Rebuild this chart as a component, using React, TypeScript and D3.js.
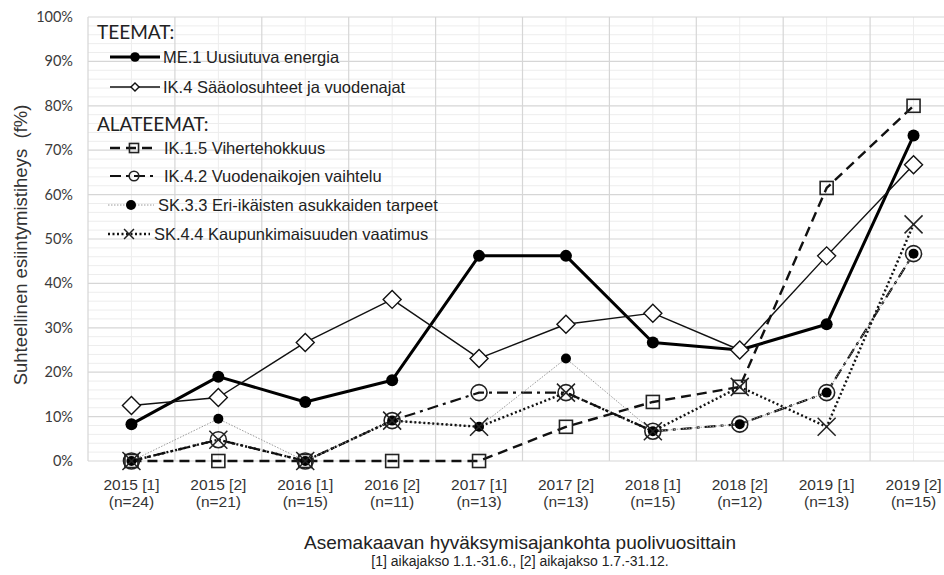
import React from "react";
import * as d3 from "d3";

const categories = ["2015 [1]", "2015 [2]", "2016 [1]", "2016 [2]", "2017 [1]", "2017 [2]", "2018 [1]", "2018 [2]", "2019 [1]", "2019 [2]"];
const sampleSizes = ["(n=24)", "(n=21)", "(n=15)", "(n=11)", "(n=13)", "(n=13)", "(n=15)", "(n=12)", "(n=13)", "(n=15)"];
const yTicks = [0, 10, 20, 30, 40, 50, 60, 70, 80, 90, 100];

const me1 = [8.3, 19.0, 13.3, 18.2, 46.2, 46.2, 26.7, 25.0, 30.8, 73.3];
const ik4 = [12.5, 14.3, 26.7, 36.4, 23.1, 30.8, 33.3, 25.0, 46.2, 66.7];
const ik15 = [0, 0, 0, 0, 0, 7.7, 13.3, 16.7, 61.5, 80.0];
const ik42 = [0, 4.8, 0, 9.1, 15.4, 15.4, 6.7, 8.3, 15.4, 46.7];
const sk33 = [0, 9.5, 0, 9.1, 7.7, 23.1, 6.7, 8.3, 15.4, 46.7];
const sk44 = [0, 4.8, 0, 9.1, 7.7, 15.4, 6.7, 16.7, 7.7, 53.3];

const seriesNames = [
  "ME.1 Uusiutuva energia",
  "IK.4 Sääolosuhteet ja vuodenajat",
  "IK.1.5 Vihertehokkuus",
  "IK.4.2 Vuodenaikojen vaihtelu",
  "SK.3.3 Eri-ikäisten asukkaiden tarpeet",
  "SK.4.4 Kaupunkimaisuuden vaatimus",
];

type Style = {
  stroke: string;
  width: number;
  dash: string | null;
  marker: "dot" | "diamond" | "square" | "circle" | "smalldot" | "x";
  legendScale: number;
};

const styles: Style[] = [
  { stroke: "#000", width: 3, dash: null, marker: "dot", legendScale: 0.8 },
  { stroke: "#111", width: 1.4, dash: null, marker: "diamond", legendScale: 0.45 },
  { stroke: "#111", width: 2.4, dash: "10,6", marker: "square", legendScale: 0.7 },
  { stroke: "#111", width: 2.2, dash: "11,5,3,5", marker: "circle", legendScale: 0.6 },
  { stroke: "#9a9a9a", width: 1, dash: "1.5,1.5", marker: "smalldot", legendScale: 1.0 },
  { stroke: "#111", width: 2.4, dash: "2,2.5", marker: "x", legendScale: 0.55 },
];

const seriesData = [me1, ik4, ik15, ik42, sk33, sk44];

const W = 944;
const H = 575;
const plotLeft = 88;
const bandW = 86.9;
const plotRight = plotLeft + bandW * categories.length;
const plotTop = 17;
const plotBottom = 461;

function Marker({ type, x, y, scale = 1 }: { type: Style["marker"]; x: number; y: number; scale?: number }) {
  const s = scale;
  switch (type) {
    case "dot":
      return <circle cx={x} cy={y} r={6 * s} fill="#000" />;
    case "diamond": {
      const r = 9 * s;
      return (
        <path
          d={`M${x},${y - r}L${x + r},${y}L${x},${y + r}L${x - r},${y}Z`}
          fill="#fff"
          stroke="#111"
          strokeWidth={1.4}
        />
      );
    }
    case "square": {
      const r = 6.5 * s;
      return <rect x={x - r} y={y - r} width={2 * r} height={2 * r} fill="none" stroke="#222" strokeWidth={1.6} />;
    }
    case "circle":
      return <circle cx={x} cy={y} r={8 * s} fill="none" stroke="#222" strokeWidth={1.6} />;
    case "smalldot":
      return <circle cx={x} cy={y} r={5 * s} fill="#000" />;
    case "x": {
      const r = 9 * s;
      return (
        <path
          d={`M${x - r},${y - r}L${x + r},${y + r}M${x - r},${y + r}L${x + r},${y - r}`}
          stroke="#222"
          strokeWidth={1.5}
          fill="none"
        />
      );
    }
  }
  return null;
}

export default function App() {
  const x = d3.scaleBand<string>().domain(categories).range([plotLeft, plotRight]);
  const y = d3.scaleLinear().domain([0, 100]).range([plotBottom, plotTop]);
  const cx = (c: string) => (x(c) ?? 0) + x.bandwidth() / 2;

  const line = d3
    .line<number>()
    .x((_, i) => cx(categories[i]))
    .y((v) => y(v));

  const minorTicks = d3.range(0, 101, 2).filter((v) => v % 10 !== 0);
  const boundaries = d3.range(0, categories.length + 1).map((i) => plotLeft + i * x.bandwidth());

  const axisFont = "'Liberation Sans', Arial, sans-serif";
  const tickFont = "Lato, 'Open Sans', sans-serif";

  const legendItems = [
    { i: 0, y: 57, x1: 110, x2: 160, tx: 163 },
    { i: 1, y: 87, x1: 110, x2: 160, tx: 163 },
    { i: 2, y: 148, x1: 110, x2: 158, tx: 164 },
    { i: 3, y: 176, x1: 110, x2: 158, tx: 164 },
    { i: 4, y: 205, x1: 108, x2: 154, tx: 158 },
    { i: 5, y: 234, x1: 108, x2: 150, tx: 154 },
  ];

  return (
    <svg width={W} height={H} style={{ position: "absolute", left: 0, top: 0, background: "#fff" }}>
      <rect x={0} y={0} width={W} height={H} fill="#fff" />
      {/* minor gridlines */}
      {minorTicks.map((t) => (
        <line key={"mh" + t} x1={plotLeft} x2={plotRight} y1={y(t)} y2={y(t)} stroke="#ededed" strokeWidth={1} />
      ))}
      {categories.map((c) => (
        <line key={"mv" + c} x1={cx(c)} x2={cx(c)} y1={plotTop} y2={plotBottom} stroke="#ededed" strokeWidth={1} />
      ))}
      {/* major gridlines */}
      {yTicks.map((t) => (
        <line key={"h" + t} x1={plotLeft} x2={plotRight} y1={y(t)} y2={y(t)} stroke="#d6d6d6" strokeWidth={1.2} />
      ))}
      {boundaries.map((b, i) => (
        <line key={"v" + i} x1={b} x2={b} y1={plotTop} y2={plotBottom} stroke="#d6d6d6" strokeWidth={1.2} />
      ))}

      {/* y tick labels */}
      {yTicks.map((t) => (
        <text
          key={"yt" + t}
          x={73}
          y={y(t)}
          dy="0.35em"
          textAnchor="end"
          fontFamily={tickFont}
          fontSize={14.5}
          fill="#3a3a3a"
        >
          {t + "%"}
        </text>
      ))}

      {/* x tick labels */}
      {categories.map((c, i) => (
        <g key={"xt" + c}>
          <text x={cx(c)} y={490} textAnchor="middle" fontFamily={axisFont} fontSize={15.5} fill="#333">
            {c}
          </text>
          <text x={cx(c)} y={507} textAnchor="middle" fontFamily={axisFont} fontSize={15.5} fill="#333">
            {sampleSizes[i]}
          </text>
        </g>
      ))}

      {/* axis titles */}
      <text
        transform={`translate(27,${(plotTop + plotBottom) / 2 + 6}) rotate(-90)`}
        textAnchor="middle"
        fontFamily={axisFont}
        fontSize={18.5}
        fill="#333"
      >
        Suhteellinen esiintymistiheys{"\u00a0\u00a0"}(f%)
      </text>
      <text x={520} y={549} textAnchor="middle" fontFamily={axisFont} fontSize={19} fill="#222">
        Asemakaavan hyväksymisajankohta puolivuosittain
      </text>
      <text x={520} y={566} textAnchor="middle" fontFamily={axisFont} fontSize={14} fill="#222">
        [1] aikajakso 1.1.-31.6., [2] aikajakso 1.7.-31.12.
      </text>

      {/* series */}
      {seriesData.map((data, si) => {
        const st = styles[si];
        return (
          <g key={"s" + si}>
            <path
              d={line(data) ?? ""}
              fill="none"
              stroke={st.stroke}
              strokeWidth={st.width}
              strokeDasharray={st.dash ?? undefined}
              strokeLinejoin="round"
            />
            {data.map((v, i) => (
              <Marker key={i} type={st.marker} x={cx(categories[i])} y={y(v)} />
            ))}
          </g>
        );
      })}

      {/* legend */}
      <text x={97} y={39} fontFamily={tickFont} fontSize={19} fill="#222">
        TEEMAT:
      </text>
      <text x={97} y={131} fontFamily={tickFont} fontSize={19} fill="#222">
        ALATEEMAT:
      </text>
      {legendItems.map((it) => {
        const st = styles[it.i];
        const mx = (it.x1 + it.x2) / 2;
        return (
          <g key={"lg" + it.i}>
            <line
              x1={it.x1}
              x2={it.x2}
              y1={it.y}
              y2={it.y}
              stroke={st.stroke}
              strokeWidth={st.width}
              strokeDasharray={st.dash ?? undefined}
            />
            <Marker type={st.marker} x={mx} y={it.y} scale={st.legendScale} />
            <text x={it.tx} y={it.y} dy="0.35em" fontFamily={axisFont} fontSize={16.5} fill="#222">
              {seriesNames[it.i]}
            </text>
          </g>
        );
      })}
    </svg>
  );
}
